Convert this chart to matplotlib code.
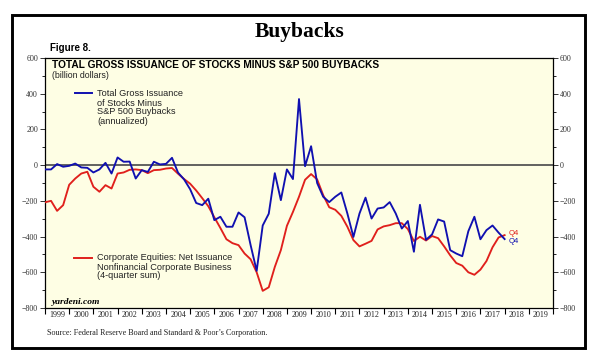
import numpy as np
import pandas as pd
import matplotlib
matplotlib.use("Agg")
import matplotlib.pyplot as plt
from matplotlib.patches import Rectangle
from matplotlib.ticker import MultipleLocator, FixedLocator, NullFormatter

# ---------------- data (billion dollars, quarterly, 1998Q4 .. 2017Q4) ----------------
quarters = pd.period_range("1998Q4", "2017Q4", freq="Q")

buybacks_net = [
    -24, -24, 6, -9,
    -4, 9, -13, -15,
    -41, -24, 13, -47,
    43, 19, 20, -75,
    -28, -38, 19, 4,
    7, 41, -42, -80,
    -135, -212, -224, -188,
    -308, -289, -345, -345,
    -265, -292, -448, -592,
    -338, -272, -45, -196,
    -24, -78, 370, -6,
    106, -100, -177, -207,
    -177, -153, -271, -402,
    -271, -182, -299, -243,
    -237, -207, -271, -355,
    -313, -485, -222, -418,
    -388, -304, -316, -476,
    -495, -510, -370, -289,
    -415, -364, -338, -378,
    -414,
]

net_issuance = [
    -208, -200, -256, -224,
    -110, -75, -47, -37,
    -121, -149, -112, -131,
    -47, -41, -26, -24,
    -28, -45, -28, -26,
    -19, -16, -48, -78,
    -104, -142, -185, -230,
    -292, -352, -415, -437,
    -448, -495, -527, -600,
    -704, -684, -570, -476,
    -340, -262, -177, -82,
    -50, -80, -168, -236,
    -250, -284, -345, -420,
    -455, -440, -424, -360,
    -343, -336, -325, -325,
    -358, -425, -401, -422,
    -397, -409, -455, -505,
    -548, -563, -600, -614,
    -585, -537, -460, -405,
    -392,
]

year_labels = [str(y) for y in range(1999, 2020)]
y_ticks = [600, 400, 200, 0, -200, -400, -600, -800]

# decimal-year position at the end of each quarter
xpos = np.array([q.year + q.quarter / 4.0 for q in quarters])

# ---------------- figure ----------------
W, H = 595, 357
fig = plt.figure(figsize=(W / 100, H / 100), dpi=100)
fig.patch.set_facecolor("white")

def fx(px):
    return px / W

def fy(py):
    return 1 - py / H

L, R, T, B = 45, 553, 58, 308
ax = fig.add_axes([fx(L), fy(B), fx(R - L), (B - T) / H])
ax.set_facecolor("#fefee4")

ax.axhline(0, color="#555555", lw=1.3, zorder=1)
ax.plot(xpos, net_issuance, color="#e0201c", lw=1.35, zorder=3)
ax.plot(xpos, buybacks_net, color="#1010b0", lw=1.35, zorder=4)

ax.set_xlim(1999, 2020)
ax.set_ylim(-800, 600)

for s in ax.spines.values():
    s.set_color("black")
    s.set_linewidth(0.9)

serif = "Liberation Serif"
sans = "Liberation Sans"

# y axis ticks both sides
ax.yaxis.set_major_locator(FixedLocator(y_ticks))
ax.yaxis.set_minor_locator(MultipleLocator(100))
ax.tick_params(axis="y", which="major", direction="out", length=3.5, width=0.7,
               left=True, right=True, labelleft=True, labelright=True,
               labelsize=5.8, pad=1.5, colors="#333333")
ax.tick_params(axis="y", which="minor", direction="out", length=2, width=0.6,
               left=True, right=True)
for lab in ax.get_yticklabels():
    lab.set_fontfamily(serif)

# x axis: ticks at year boundaries, labels centered in the year
ax.xaxis.set_major_locator(FixedLocator(np.arange(1999, 2021)))
ax.xaxis.set_major_formatter(NullFormatter())
ax.xaxis.set_minor_locator(FixedLocator(np.arange(1999, 2020) + 0.5))
ax.set_xticklabels(year_labels, minor=True)
ax.tick_params(axis="x", which="major", direction="out", length=4.5, width=0.8)
ax.tick_params(axis="x", which="minor", length=0, labelsize=5.8, pad=2.5,
               colors="#222222")
for lab in ax.get_xticklabels(minor=True):
    lab.set_fontfamily(serif)

# texts inside plot (axes pixel positions converted)
def ax_text(px, py, s, **kw):
    fig.text(fx(px), fy(py), s, **kw)

ax_text(52, 65, "TOTAL GROSS ISSUANCE OF STOCKS MINUS S&P 500 BUYBACKS",
        fontsize=7.3, fontweight="bold", family=sans, va="center", ha="left")
ax_text(52, 76, "(billion dollars)", fontsize=6.3, family=sans, va="center",
        ha="left", color="#222222")

# legend entries
fig.add_artist(plt.Line2D([fx(75), fx(92)], [fy(93), fy(93)], color="#1010b0", lw=1.4))
for i, s in enumerate(["Total Gross Issuance", "of Stocks Minus",
                       "S&P 500 Buybacks", "(annualized)"]):
    ax_text(97, 94 + 9 * i, s, fontsize=6.6, family=sans, va="center",
            ha="left", color="#222222")

fig.add_artist(plt.Line2D([fx(74), fx(92)], [fy(257.5), fy(257.5)], color="#e0201c", lw=1.4))
for i, s in enumerate(["Corporate Equities: Net Issuance",
                       "Nonfinancial Corporate Business",
                       "(4-quarter sum)"]):
    ax_text(97, 258 + 9 * i, s, fontsize=6.6, family=sans, va="center",
            ha="left", color="#222222")

ax_text(52, 302, "yardeni.com", fontsize=6.8, family=serif, fontweight="bold",
        fontstyle="italic", va="center", ha="left")

# end labels
ax.annotate("Q4", xy=(xpos[-1], net_issuance[-1]), xytext=(3, 1.5),
            textcoords="offset points", color="#e0201c", fontsize=5.5,
            family=sans, va="center", ha="left")
ax.annotate("Q4", xy=(xpos[-1], buybacks_net[-1]), xytext=(3, -1.5),
            textcoords="offset points", color="#1010b0", fontsize=5.5,
            family=sans, va="center", ha="left")

# title, figure label, source
ax_text(300, 32, "Buybacks", fontsize=15.5, fontweight="bold", family=serif,
        ha="center", va="center")
ax_text(50, 48, "Figure 8.", fontsize=7, fontweight="bold", family=sans,
        ha="left", va="center")
ax_text(47, 333, "Source: Federal Reserve Board and Standard & Poor\u2019s Corporation.",
        fontsize=5.9, family=serif, ha="left", va="center", color="#222222")

# outer frame
fig.add_artist(Rectangle((fx(12), fy(348)), fx(585 - 12), (348 - 15) / H,
                         transform=fig.transFigure, fill=False,
                         edgecolor="black", lw=2.1))

fig.savefig("out.png", dpi=100)
